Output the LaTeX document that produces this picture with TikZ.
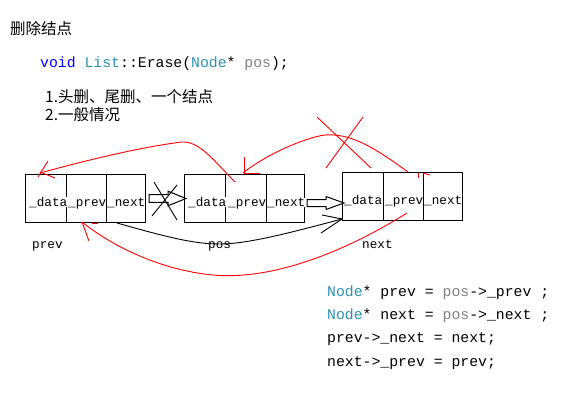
\documentclass[tikz,border=0pt]{standalone}
\usepackage{fontspec}
\setmonofont{Liberation Mono}
\newfontfamily\cjk{Noto Sans CJK SC}
\usetikzlibrary{calc}
\definecolor{kwblue}{HTML}{0000FF}
\definecolor{typeteal}{HTML}{2B91AF}
\definecolor{argray}{HTML}{808080}
\definecolor{inkred}{HTML}{FF0000}
\tikzset{
  cell/.style={draw, line width=1pt, minimum height=48pt, inner sep=0pt, anchor=north west},
  lbl/.style={font=\fontsize{12.7}{14}\ttfamily, fill=white, inner sep=0pt, anchor=base west},
  code/.style={font=\fontsize{14.8}{17}\ttfamily, inner sep=0pt, anchor=base west},
  zh/.style={font=\fontsize{15.5}{18}\cjk, inner sep=0pt, anchor=base west},
  hollow/.style={draw, line width=1pt, fill=white},
  pen/.style={line width=0.9pt},
  redpen/.style={inkred, line width=0.9pt},
}
\begin{document}
\begin{tikzpicture}[x=1pt,y=-1pt]
\useasboundingbox (0,0) rectangle (571,400);
\fill[white] (0,0) rectangle (571,400);

% headings
\node[zh] (title) at (10,34) {删除结点};
\node[code] (sig) at (40,67) {\textcolor{kwblue}{void} \textcolor{typeteal}{List}::Erase(\textcolor{typeteal}{Node}* \textcolor{argray}{pos});};
\node[zh] (item1) at (45,102) {1.头删、尾删、一个结点};
\node[zh] (item2) at (45,120) {2.一般情况};

% boxes
\node[cell, minimum width=41pt] (d1) at (25,174) {};
\node[cell, minimum width=40pt] (p1) at (66,174) {};
\node[cell, minimum width=39pt] (n1) at (106,174) {};
\node[cell, minimum width=41pt] (d2) at (184,174) {};
\node[cell, minimum width=41pt] (p2) at (225,174) {};
\node[cell, minimum width=38pt] (n2) at (266,174) {};
\node[cell, minimum width=41pt] (d3) at (342,172) {};
\node[cell, minimum width=40pt] (p3) at (383,172) {};
\node[cell, minimum width=39pt] (n3) at (423,172) {};

\node[lbl] (d1t) at (29,206) {\_data};
\node[lbl] (p1t) at (68,206) {\_prev};
\node[lbl] (n1t) at (107,206) {\_next};
\node[lbl] (d2t) at (188,206) {\_data};
\node[lbl] (p2t) at (228,206) {\_prev};
\node[lbl] (n2t) at (267,206) {\_next};
\node[lbl] (d3t) at (344,204) {\_data};
\node[lbl] (p3t) at (385,204) {\_prev};
\node[lbl] (n3t) at (424,204) {\_next};

% names under boxes
\node[code, font=\fontsize{12.7}{14}\ttfamily] (lprev) at (32,248) {prev};
\node[code, font=\fontsize{12.7}{14}\ttfamily] (lpos) at (208,248) {pos};
\node[code, font=\fontsize{12.7}{14}\ttfamily] (lnext) at (362,248) {next};

% hollow arrows
\draw[hollow] ($(n1.east)+(3,0)$) ++(0,-3.8) -- ++(19,0) -- ++(0,-3.5) -- ++(18,7.3) -- ++(-18,7.3) -- ++(0,-3.5) -- ++(-19,0) -- cycle;
\draw[hollow] ($(n2.east)+(2,4.5)$) ++(0,-3.5) -- ++(19,0) -- ++(0,-3) -- ++(18,6.5) -- ++(-18,6.5) -- ++(0,-3) -- ++(-19,0) -- cycle;

% black cross over first arrow
\draw[pen] (154,182) -- (177,220);
\draw[pen] (177,185) -- (152,216);

% black curve n1 -> d3
\coordinate (bs) at ($(n1.south west)+(11,0)$);
\coordinate (bt) at ($(d3.south west)+(0,-2)$);
\draw[pen] (bs) .. controls (170,238) and (195,244) .. (220,244) .. controls (250,244) and (300,230) .. (bt);
\draw[pen] (bt) -- ++(-20,-4);
\draw[pen] (bt) -- ++(-21,14);

% red curve 1: pos->_prev to prev
\coordinate (r1s) at (235,182);
\coordinate (r1t) at (40,173);
\draw[redpen] (r1s) .. controls (215,162) and (200,141) .. (182,142) .. controls (140,147) and (80,162) .. (r1t);
\draw[redpen] (48,161) -- (38,177);
\draw[redpen] (40,172) -- (55,178);

% red curve 2: next->_prev to pos (crossed)
\coordinate (r2s) at (408,172);
\coordinate (r2t) at (243,173);
\draw[redpen] (r2s) .. controls (375,148) and (345,128) .. (315,137) .. controls (290,144) and (262,158) .. (r2t);
\draw[redpen] (244,157) -- (244,173) -- (260,173);
\draw[redpen] (317,117) -- (371,168);
\draw[redpen] (363,117) -- (326,168);
\draw[redpen] (418,173) -- (418,178);
\draw[redpen] (423,173) -- (430,175);

% red curve 3: next->_prev to prev
\coordinate (r3s) at (407,213);
\coordinate (r3t) at (82,222);
\draw[redpen] (r3s) .. controls (335,258) and (265,280) .. (213,275) .. controls (160,270) and (112,246) .. (r3t);
\draw[redpen] (r3t) -- (89,241);
\draw[redpen] (92,223) -- (98,223);

% code block
\node[code] (c1) at (327,296) {\textcolor{typeteal}{Node}* prev = \textcolor{argray}{pos}->\_prev ;};
\node[code] (c2) at (327,319.5) {\textcolor{typeteal}{Node}* next = \textcolor{argray}{pos}->\_next ;};
\node[code] (c3) at (327,342.5) {prev->\_next = next;};
\node[code] (c4) at (327,366) {next->\_prev = prev;};
\end{tikzpicture}
\end{document}
